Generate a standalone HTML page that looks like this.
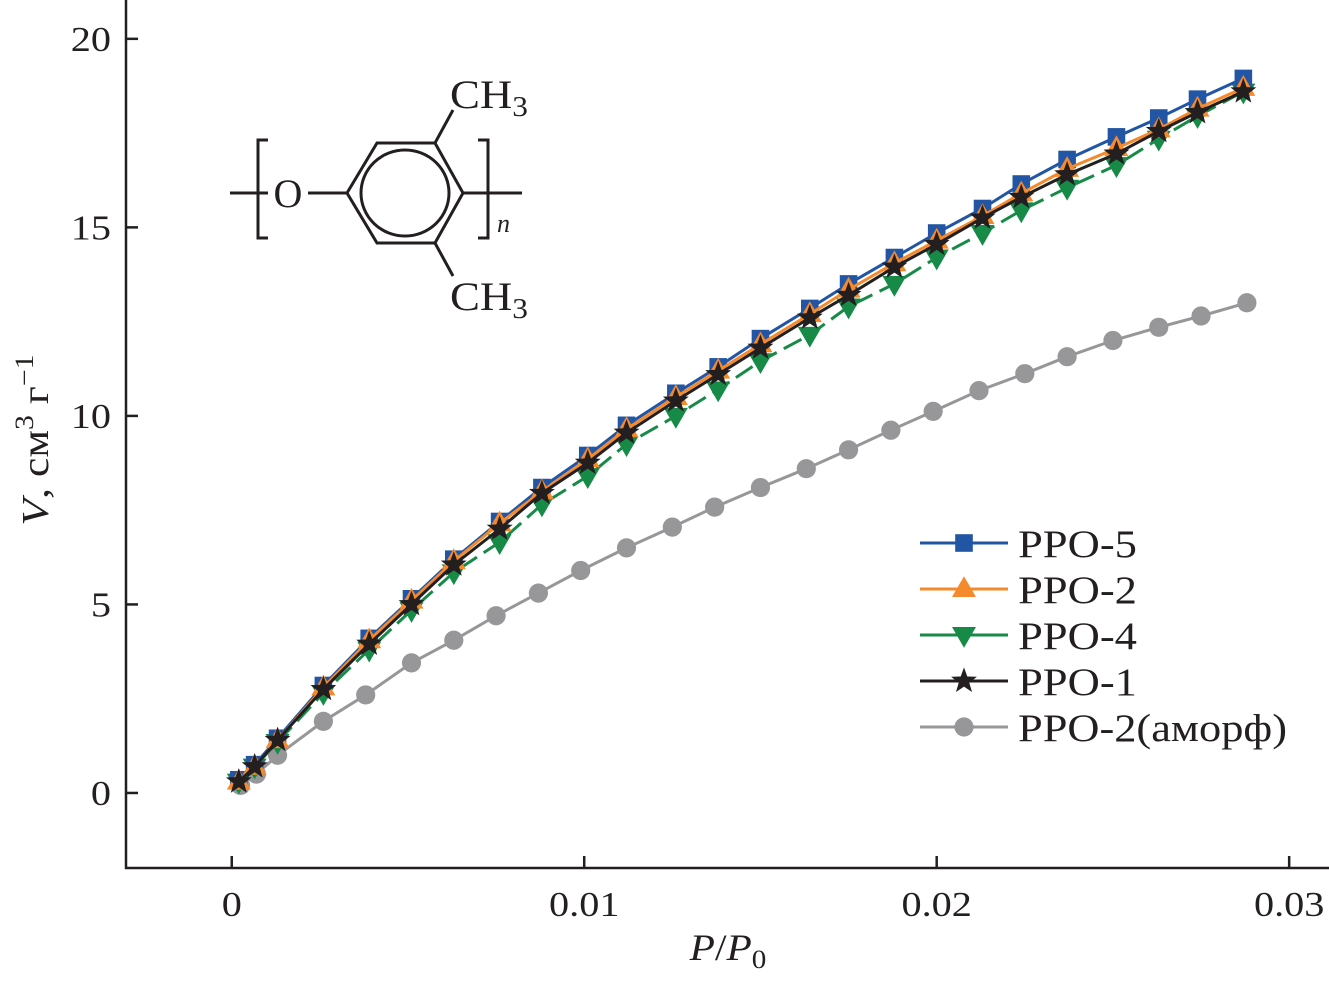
<!DOCTYPE html>
<html><head><meta charset="utf-8"><style>
html,body{margin:0;padding:0;background:#fff;}
svg{display:block;font-family:"Liberation Serif",serif;}
</style></head><body>
<svg id="chart" width="1329" height="984" viewBox="0 0 1329 984">
<g id="axes"></g>
<g id="plot"></g>
<g id="struct" stroke="#231f20" stroke-width="3" fill="none">
  <line x1="230" y1="193" x2="268" y2="193"/>
  <path d="M268,140 H258 V238 H268"/>
  <line x1="308" y1="193" x2="347" y2="193"/>
  <polygon points="347,193 377,143 435,143 463,193 435,243 377,243"/>
  <ellipse cx="405" cy="193" rx="44" ry="43"/>
  <line x1="435" y1="143" x2="453" y2="110"/>
  <line x1="435" y1="243" x2="453" y2="276"/>
  <line x1="463" y1="193" x2="522" y2="193"/>
  <path d="M478,140 H488 V238 H478"/>
  <g stroke="none" fill="#231f20">
    <text x="288" y="207" font-size="40" text-anchor="middle">O</text>
    <text x="450" y="108" font-size="40" textLength="78" lengthAdjust="spacingAndGlyphs">CH<tspan font-size="28" dy="8">3</tspan></text>
    <text x="450" y="310" font-size="40" textLength="78" lengthAdjust="spacingAndGlyphs">CH<tspan font-size="28" dy="8">3</tspan></text>
    <text x="497" y="232" font-size="26" font-style="italic">n</text>
  </g>
</g>
<g id="legend"></g>
</svg>
<script>
const xTicks = [0, 0.01, 0.02, 0.03];
const xTickLabels = ["0", "0.01", "0.02", "0.03"];
const yTicks = [0, 5, 10, 15, 20];
const yTickLabels = ["0", "5", "10", "15", "20"];
const seriesNames = ["PPO-5", "PPO-2", "PPO-4", "PPO-1", "PPO-2(аморф)"];
const xCryst = [0.0002,0.00065,0.0013,0.0026,0.0039,0.0051,0.0063,0.0076,0.0088,0.0101,0.0112,0.0126,0.0138,0.0150,0.0164,0.0175,0.0188,0.0200,0.0213,0.0224,0.0237,0.0251,0.0263,0.0274,0.0287];
const xAmorph = [0.00025,0.0007,0.0013,0.0026,0.0038,0.0051,0.0063,0.0075,0.0087,0.0099,0.0112,0.0125,0.0137,0.0150,0.0163,0.0175,0.0187,0.0199,0.0212,0.0225,0.0237,0.0250,0.0263,0.0275,0.0288];
const yPPO5 = [0.35,0.75,1.45,2.85,4.1,5.15,6.2,7.2,8.1,8.95,9.75,10.6,11.3,12.05,12.85,13.5,14.2,14.85,15.5,16.15,16.8,17.4,17.9,18.4,18.95];
const yPPO2 = [0.3,0.7,1.4,2.8,4.05,5.1,6.15,7.15,8.0,8.85,9.65,10.5,11.2,11.9,12.7,13.35,14.05,14.65,15.3,15.9,16.55,17.1,17.6,18.15,18.7];
const yPPO4 = [0.3,0.7,1.35,2.65,3.8,4.85,5.85,6.65,7.65,8.4,9.25,10.0,10.7,11.45,12.15,12.9,13.5,14.2,14.85,15.45,16.05,16.65,17.35,17.95,18.6];
const yPPO1 = [0.3,0.7,1.4,2.75,3.95,5.0,6.05,7.0,7.95,8.75,9.55,10.4,11.1,11.8,12.6,13.2,13.95,14.55,15.25,15.8,16.4,16.95,17.55,18.05,18.6];
const yAmorph = [0.2,0.5,1.0,1.9,2.6,3.45,4.05,4.7,5.3,5.9,6.5,7.05,7.58,8.1,8.6,9.1,9.62,10.12,10.67,11.12,11.57,12.0,12.35,12.65,13.0];

const NS = "http://www.w3.org/2000/svg";
const X0 = 126, X1 = 1329, Y0 = 868, Y1 = 0;
const xmin = -0.003, xmax = 0.03113, ymin = -1.99, ymax = 21.03;
function sx(v){ return X0 + (v - xmin) / (xmax - xmin) * (X1 - X0); }
function sy(v){ return Y0 - (v - ymin) / (ymax - ymin) * (Y0 - Y1); }
function mk(tag, attrs, parent){ const e = document.createElementNS(NS, tag); for (const k in attrs) e.setAttribute(k, attrs[k]); parent.appendChild(e); return e; }

const axes = document.getElementById("axes");
const ax = mk("path", {d:`M${X0},0 V${Y0} H${X1}`, stroke:"#231f20", "stroke-width":2.5, fill:"none"}, axes);


xTicks.forEach((t,i)=>{
  const x = sx(t);
  const l = mk("line", {x1:x, x2:x, y1:Y0, y2:Y0-12, stroke:"#231f20","stroke-width":2.5}, axes);
  
  
  const tx = mk("text", {x:0, y:0, "font-size":35, "text-anchor":"middle", fill:"#231f20", transform:`translate(${x},916) scale(1.15,1)`}, axes);
  tx.textContent = xTickLabels[i];
  
  
});
yTicks.forEach((t,i)=>{
  const y = sy(t);
  const l = mk("line", {x1:X0, x2:X0+12, y1:y, y2:y, stroke:"#231f20","stroke-width":2.5}, axes);
  
  
  const tx = mk("text", {x:0, y:0, "font-size":35, "text-anchor":"end", fill:"#231f20", transform:`translate(111,${y+12}) scale(1.15,1)`}, axes);
  tx.textContent = yTickLabels[i];
  
  
});
const xt = mk("text", {x:0, y:0, "font-size":37, "text-anchor":"middle", fill:"#231f20", transform:"translate(728,960) scale(1.12,1)"}, axes);
xt.innerHTML = '<tspan font-style="italic">P</tspan>/<tspan font-style="italic">P</tspan><tspan font-size="26" dy="8">0</tspan>';


const yt = mk("text", {x:0, y:0, "font-size":38, "text-anchor":"middle", fill:"#231f20", transform:"translate(48,440) rotate(-90) scale(1.15,1)"}, axes);
yt.innerHTML = '<tspan font-style="italic">V</tspan>, см<tspan font-size="26" dy="-15">3</tspan><tspan dy="15"> г</tspan><tspan font-size="26" dy="-15">−1</tspan>';



const colors = ["#2255a4", "#f58a2c", "#168a46", "#231f20", "#97979a"];
const markers = ["square", "tri-up", "tri-down", "star", "circle"];
const dashes = ["none", "none", "20,8", "none", "none"];
const xs = [xCryst, xCryst, xCryst, xCryst, xAmorph];
const ys = [yPPO5, yPPO2, yPPO4, yPPO1, yAmorph];
const order = [4, 2, 0, 1, 3];

function drawMarker(type, x, y, c, parent, s){
  let e;
  if (type === "square") e = mk("rect", {x:x-s*0.55, y:y-s*0.55, width:s*1.1, height:s*1.1, fill:c}, parent);
  else if (type === "tri-up") e = mk("polygon", {points:`${x},${y-s*0.8} ${x-s*0.75},${y+s*0.5} ${x+s*0.75},${y+s*0.5}`, fill:c}, parent);
  else if (type === "tri-down") e = mk("polygon", {points:`${x},${y+s*0.8} ${x-s*0.75},${y-s*0.5} ${x+s*0.75},${y-s*0.5}`, fill:c}, parent);
  else if (type === "circle") e = mk("circle", {cx:x, cy:y, r:s*0.6, fill:c}, parent);
  else {
    let p = [];
    for (let k=0;k<10;k++){ const r = k%2===0 ? s*0.85 : s*0.35; const a = -Math.PI/2 + k*Math.PI/5; p.push((x+r*Math.cos(a)).toFixed(1)+","+(y+r*Math.sin(a)).toFixed(1)); }
    e = mk("polygon", {points:p.join(" "), fill:c}, parent);
  }
  return e;
}

const plot = document.getElementById("plot");
order.forEach(i=>{
  const g = mk("g", {}, plot);
  
  
  const pts = xs[i].map((v,j)=>sx(v).toFixed(1)+","+sy(ys[i][j]).toFixed(1)).join(" ");
  const pl = mk("polyline", {points:pts, fill:"none", stroke:colors[i], "stroke-width":3, "stroke-dasharray":dashes[i]}, g);
  
  
  xs[i].forEach((v,j)=>{
    const m = drawMarker(markers[i], sx(v), sy(ys[i][j]), colors[i], g, 16);
    
    
  });
});

const legendWidths = [119, 119, 119, 119, 269];
const legend = document.getElementById("legend");
seriesNames.forEach((n,i)=>{
  const y = 543 + i*46;
  const g = mk("g", {}, legend);
  
  
  mk("line", {x1:920, x2:1008, y1:y, y2:y, stroke:colors[i], "stroke-width":3}, g);
  drawMarker(markers[i], 964, y, colors[i], g, 16);
  const t = mk("text", {x:1018, y:y+14, "font-size":39, fill:"#231f20", textLength:legendWidths[i], lengthAdjust:"spacingAndGlyphs"}, g);
  t.textContent = n;
  
  
});
</script>
</body></html>
